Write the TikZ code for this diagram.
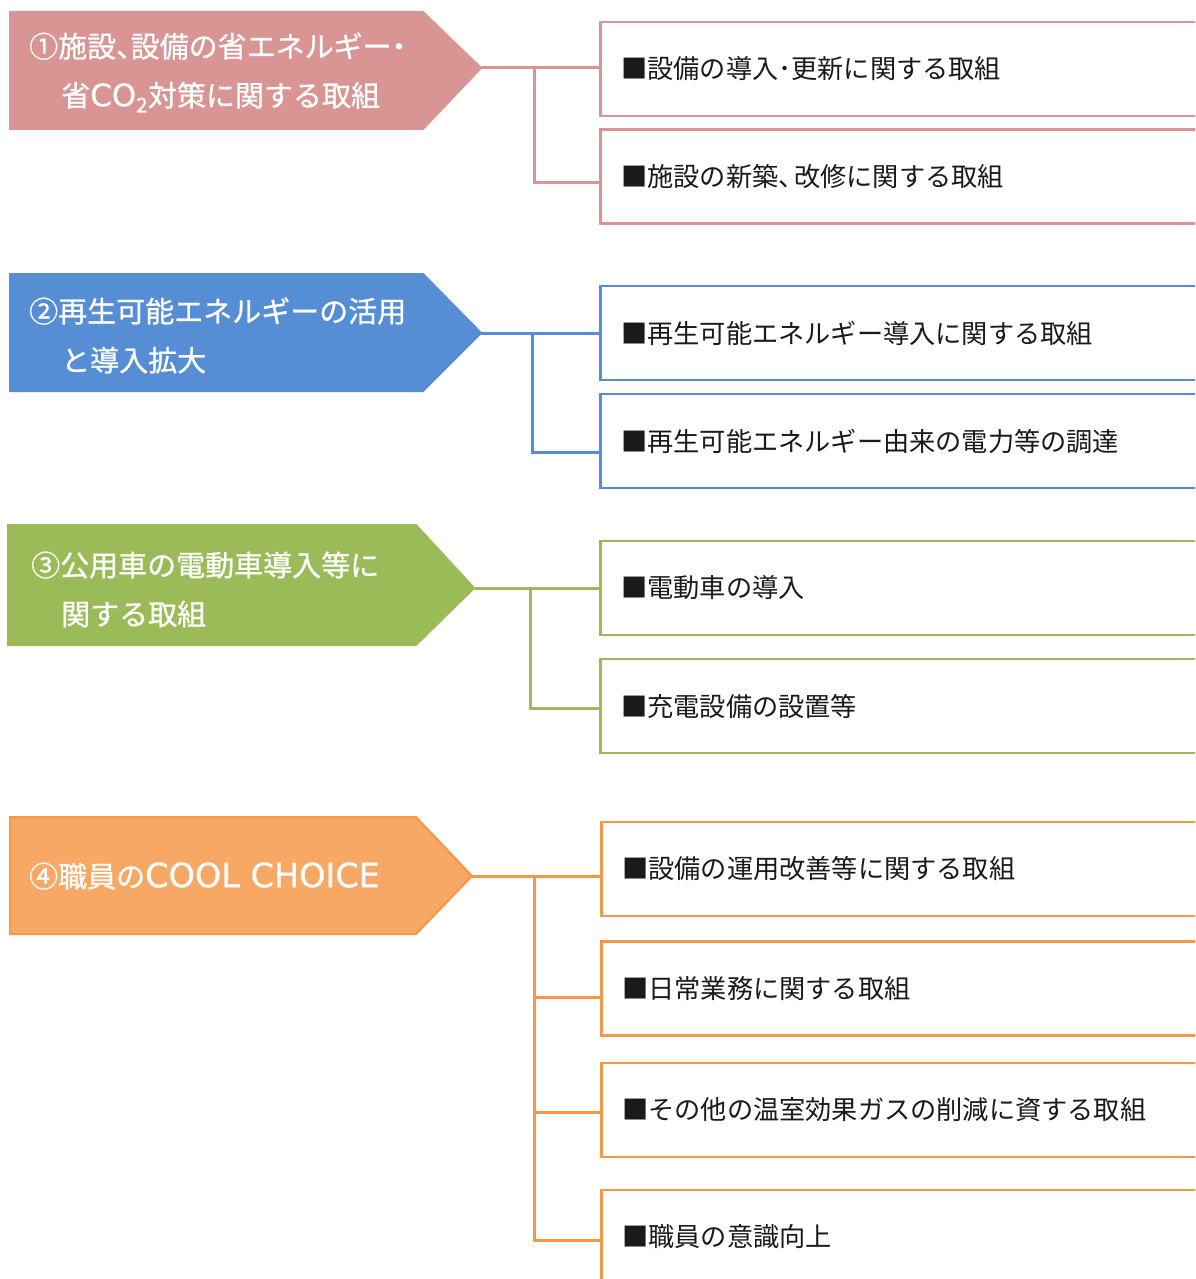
\documentclass[tikz,border=0pt]{standalone}
\usepackage{fontspec}
\newfontfamily\jp{Noto Sans CJK JP}
\newfontfamily\jpb{Noto Sans CJK JP}[FakeBold=0.8]
\newfontfamily\latb{DejaVu Sans}[FakeBold=0.6]
\definecolor{cpink}{HTML}{D99594}
\definecolor{cblue}{HTML}{558ED5}
\definecolor{cgreen}{HTML}{9BBB59}
\definecolor{corange}{HTML}{F79646}
\definecolor{corangefill}{HTML}{F8A865}
\definecolor{ctext}{HTML}{1A1A1A}
\newcommand{\wlat}[2][31]{{\latb\fontsize{#1}{49}\selectfont #2}}
\newcommand{\narrowpunct}[2]{\makebox[#1][l]{#2}}
\tikzset{
  pent/.style={line width=2pt, line join=miter},
  titletxt/.style={text=white, font=\jpb\fontsize{29}{49}\selectfont, align=left, anchor=west, inner sep=0pt},
  itembox/.style={draw, line width=2.5pt, minimum width=620pt, minimum height=94pt, anchor=west,
    inner xsep=21pt, inner ysep=0pt, text width=578pt, align=left, text=ctext,
    font=\jp\fontsize{26.2}{30}\selectfont},
  conn/.style={line width=3pt}
}
\begin{document}
\begin{tikzpicture}[x=1pt,y=-1pt]
\clip (0,0) rectangle (1195,1279);
\fill[white] (0,0) rectangle (1195,1279);

% ---------- group 1 (pink)
\filldraw[pent, draw=cpink, fill=cpink] (10,12) -- (423,12) -- (481,68) -- (423,129) -- (10,129) -- cycle;
\coordinate (tip1) at (481,68);
\node[titletxt] (t1) at (29,72.5) {①施設\narrowpunct{0.5em}{、}設備の省エネルギー\makebox[0.5em][c]{・}\\\hspace*{32pt}省\wlat{CO}\textsubscript{2}対策に関する取組};
\node[itembox, draw=cpink] (b11) at (599,69) {■設備の導入･更新に関する取組};
\node[itembox, draw=cpink] (b12) at (599,176.5) {■施設の新築\narrowpunct{0.6em}{、}改修に関する取組};
\coordinate (j1) at (534,68);
\draw[conn, cpink] (tip1) -- (tip1 -| b11.west);
\draw[conn, cpink] (j1) |- ([yshift=-5.5pt]b12.west);

% ---------- group 2 (blue)
\filldraw[pent, draw=cblue, fill=cblue] (10,274) -- (423,274) -- (481,333) -- (423,391) -- (10,391) -- cycle;
\coordinate (tip2) at (481,333);
\node[titletxt] (t2) at (29,335.5) {②再生可能エネルギーの活用\\\hspace*{32pt}と導入拡大};
\node[itembox, draw=cblue] (b21) at (599,333) {■再生可能エネルギー導入に関する取組};
\node[itembox, draw=cblue] (b22) at (599,441) {■再生可能エネルギー由来の電力等の調達};
\coordinate (j2) at (532,333);
\draw[conn, cblue] (tip2) -- (tip2 -| b21.west);
\draw[conn, cblue] (j2) |- ([yshift=-11pt]b22.west);

% ---------- group 3 (green)
\filldraw[pent, draw=cgreen, fill=cgreen] (8,525) -- (416,525) -- (474,588) -- (416,645) -- (8,645) -- cycle;
\coordinate (tip3) at (474,588);
\node[titletxt] (t3) at (31,589.5) {③公用車の電動車導入等に\\\hspace*{30pt}関する取組};
\node[itembox, draw=cgreen] (b31) at (599,588) {■電動車の導入};
\node[itembox, draw=cgreen] (b32) at (599,706) {■充電設備の設置等};
\coordinate (j3) at (530,588);
\draw[conn, cgreen] (tip3) -- (tip3 -| b31.west);
\draw[conn, cgreen] (j3) |- ([yshift=-2pt]b32.west);

% ---------- group 4 (orange)
\filldraw[pent, draw=corange, fill=corangefill] (10,817) -- (416,817) -- (472,876) -- (416,934) -- (10,934) -- cycle;
\coordinate (tip4) at (472,876);
\node[titletxt] (t4) at (29,876) {④職員の\wlat[33.5]{COOL CHOICE}};
\node[itembox, draw=corange] (b41) at (600,869) {■設備の運用改善等に関する取組};
\node[itembox, draw=corange] (b42) at (600,988.5) {■日常業務に関する取組};
\node[itembox, draw=corange] (b43) at (600,1110) {■その他の温室効果ガスの削減に資する取組};
\node[itembox, draw=corange] (b44) at (600,1237) {■職員の意識向上};
\coordinate (j4) at (534,876);
\draw[conn, corange] (tip4) -- (tip4 -| b41.west);
\draw[conn, corange] (j4) |- ([yshift=-3pt]b44.west);
\draw[conn, corange] (j4 |- b42.west) ++(0,8.5) -- ([yshift=-8.5pt]b42.west);
\draw[conn, corange] (j4 |- b43.west) ++(0,2) -- ([yshift=-2pt]b43.west);
\end{tikzpicture}
\end{document}
